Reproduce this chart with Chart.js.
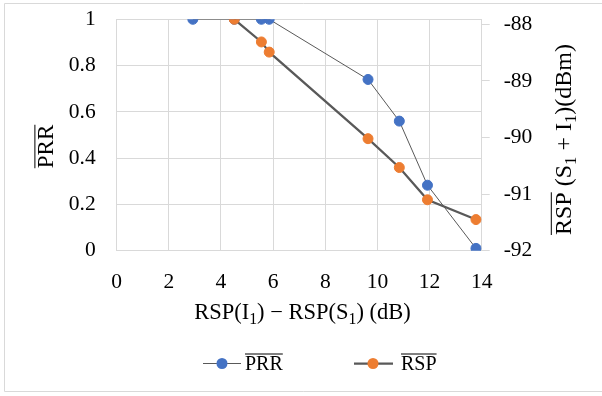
<!DOCTYPE html>
<html><head><meta charset="utf-8">
<script src="https://cdn.jsdelivr.net/npm/chart.js@4.4.1/dist/chart.umd.min.js"></script>
<style>html,body{margin:0;padding:0;background:#fff}#wrap{width:602px;height:396px;position:relative}</style>
</head><body><div id="wrap"><canvas id="c" width="602" height="396"></canvas></div>
<script>
// ---- data ----
const diffDb = [2.92, 4.51, 5.55, 5.85, 9.64, 10.84, 11.92, 13.78];
const prrValues = [1, 1, 1, 1, 0.74, 0.56, 0.283, 0.01];
const rspValues = [null, -87.91, -88.31, -88.49, -90.02, -90.53, -91.10, -91.45];
const xTicks = [0, 2, 4, 6, 8, 10, 12, 14];
const prrTicks = [0, 0.2, 0.4, 0.6, 0.8, 1];
const rspTicks = [-92, -91, -90, -89, -88];
const seriesNames = ['PRR', 'RSP'];
const seriesColors = ['#4472C4', '#ED7D31'];
const xTitle = [{t:'RSP(I'},{t:'1',sub:true},{t:') \u2212 RSP(S'},{t:'1',sub:true},{t:') (dB)'}];
const leftTitle = [{t:'PRR',over:true}];
const rightTitle = [{t:'RSP',over:true},{t:' (S'},{t:'1',sub:true},{t:' + I'},{t:'1',sub:true},{t:')(dBm)'}];

const SERIF = '"Liberation Serif", "Times New Roman", serif';
const GRID = '#d9d9d9';
const LINE = '#595959';
const TICK_SIZE = 21.5;

function richWidth(ctx, segs, size) {
  let w = 0;
  for (const s of segs) {
    ctx.font = (s.sub ? size * 0.7 : size) + 'px ' + SERIF;
    w += ctx.measureText(s.t).width;
  }
  return w;
}
function drawRich(ctx, segs, size, x0) {
  let x = x0;
  ctx.fillStyle = '#000';
  ctx.textBaseline = 'alphabetic';
  ctx.textAlign = 'left';
  for (const s of segs) {
    ctx.font = (s.sub ? size * 0.7 : size) + 'px ' + SERIF;
    const w = ctx.measureText(s.t).width;
    ctx.fillText(s.t, x, s.sub ? size * 0.22 : 0);
    if (s.over) {
      ctx.strokeStyle = '#000';
      ctx.lineWidth = 1;
      ctx.beginPath();
      ctx.moveTo(x, -size * 0.8);
      ctx.lineTo(x + w, -size * 0.8);
      ctx.stroke();
    }
    x += w;
  }
}

const decor = {
  id: 'decor',
  afterDraw(chart) {
    const ctx = chart.ctx;
    ctx.save();
    // outer frame (top, left, bottom)
    ctx.strokeStyle = GRID; ctx.lineWidth = 1;
    ctx.beginPath();
    ctx.moveTo(602, 3.5); ctx.lineTo(4.5, 3.5); ctx.lineTo(4.5, 391.5); ctx.lineTo(602, 391.5);
    ctx.stroke();
    // x title
    let w = richWidth(ctx, xTitle, 22.5);
    ctx.save(); ctx.translate(302.5, 319); drawRich(ctx, xTitle, 22.5, -w / 2); ctx.restore();
    // left title
    w = richWidth(ctx, leftTitle, 23);
    ctx.save(); ctx.translate(53.3, 146.5); ctx.rotate(-Math.PI / 2); drawRich(ctx, leftTitle, 23, -w / 2); ctx.restore();
    // right title
    w = richWidth(ctx, rightTitle, 24);
    ctx.save(); ctx.translate(570.5, 139.5); ctx.rotate(-Math.PI / 2); drawRich(ctx, rightTitle, 24, -w / 2); ctx.restore();
    // legend
    const ly = 363.5;
    const items = [
      {x1: 203, x2: 241, mx: 222, tx: 245, lw: 1},
      {x1: 354, x2: 393, mx: 373, tx: 401, lw: 2.25}
    ];
    items.forEach((it, i) => {
      ctx.strokeStyle = LINE; ctx.lineWidth = it.lw;
      ctx.beginPath(); ctx.moveTo(it.x1, ly); ctx.lineTo(it.x2, ly); ctx.stroke();
      ctx.fillStyle = seriesColors[i];
      ctx.beginPath(); ctx.arc(it.mx, ly, 5.5, 0, Math.PI * 2); ctx.fill();
      ctx.save(); ctx.translate(it.tx, 370);
      drawRich(ctx, [{t: chart.data.datasets[i].label, over: true}], 20, 0);
      ctx.restore();
    });
    ctx.restore();
  }
};

const tickFont = {family: SERIF, size: TICK_SIZE};
const noPad = s => { s.paddingTop = 0; s.paddingBottom = 0; s.paddingLeft = 0; s.paddingRight = 0; };

new Chart(document.getElementById('c'), {
  type: 'scatter',
  data: {
    datasets: [
      {
        label: seriesNames[0],
        data: diffDb.map((x, i) => ({x, y: prrValues[i]})),
        showLine: true, borderColor: LINE, borderWidth: 1,
        pointRadius: 5, pointBorderWidth: 1,
        pointBackgroundColor: seriesColors[0], pointBorderColor: seriesColors[0],
        yAxisID: 'y', order: 2
      },
      {
        label: seriesNames[1],
        data: diffDb.map((x, i) => ({x, y: rspValues[i]})).filter(p => p.y !== null),
        showLine: true, borderColor: LINE, borderWidth: 2.25,
        pointRadius: 5, pointBorderWidth: 1,
        pointBackgroundColor: seriesColors[1], pointBorderColor: seriesColors[1],
        yAxisID: 'y2', order: 1
      }
    ]
  },
  options: {
    responsive: false, animation: false, devicePixelRatio: 1,
    layout: {padding: {top: 19.3, left: 0, right: 0, bottom: 0}},
    plugins: {legend: {display: false}, tooltip: {enabled: false}},
    scales: {
      x: {
        type: 'linear', position: 'bottom', min: 0, max: 14,
        afterBuildTicks: s => { s.ticks = xTicks.map(v => ({value: v})); },
        afterFit: s => { s.height = 145.3; noPad(s); },
        grid: {color: GRID, drawTicks: false},
        border: {color: GRID},
        ticks: {font: tickFont, color: '#000', padding: 19, maxRotation: 0}
      },
      y: {
        type: 'linear', position: 'left', min: 0, max: 1,
        afterBuildTicks: s => { s.ticks = prrTicks.map(v => ({value: v})); },
        afterFit: s => { s.width = 116.7; noPad(s); },
        grid: {color: GRID, drawTicks: false},
        border: {color: GRID},
        ticks: {font: tickFont, color: '#000', padding: 21, callback: v => String(v)}
      },
      y2: {
        type: 'linear', position: 'right', min: -92, max: -87.91,
        afterBuildTicks: s => { s.ticks = rspTicks.map(v => ({value: v})); },
        afterFit: s => { s.width = 120.3; noPad(s); },
        grid: {color: GRID, drawOnChartArea: false, drawTicks: true, tickLength: 8},
        border: {color: GRID},
        ticks: {font: tickFont, color: '#000', padding: 14, callback: v => String(v)}
      }
    }
  },
  plugins: [decor]
});
</script></body></html>
